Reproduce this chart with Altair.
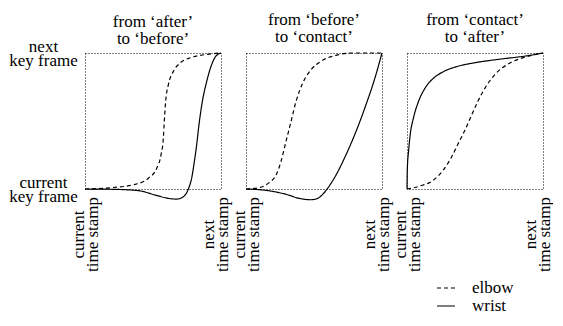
import altair as alt
import pandas as pd

FONT = "Liberation Serif"

panels = ["p1", "p2", "p3"]
titles = {
    "p1": ["from \u2018after\u2019", "to \u2018before\u2019"],
    "p2": ["from \u2018before\u2019", "to \u2018contact\u2019"],
    "p3": ["from \u2018contact\u2019", "to \u2018after\u2019"],
}

p1_elbow_t = [0, 0.196, 0.368, 0.466, 0.527, 0.559, 0.576, 0.583, 0.593, 0.613, 0.650, 0.699, 0.784, 0.882, 1.0]
p1_elbow_v = [0, 0.010, 0.034, 0.079, 0.152, 0.251, 0.373, 0.496, 0.644, 0.767, 0.865, 0.926, 0.968, 0.988, 1.0]
p1_wrist_t = [0, 0.196, 0.392, 0.515, 0.613, 0.674, 0.723, 0.760, 0.784, 0.804, 0.821, 0.838, 0.863, 0.895, 0.931, 0.961, 1.0]
p1_wrist_v = [0, -0.002, -0.012, -0.044, -0.069, -0.074, -0.057, 0.0, 0.079, 0.201, 0.324, 0.472, 0.644, 0.791, 0.914, 0.975, 1.0]
p2_elbow_t = [0, 0.098, 0.172, 0.221, 0.257, 0.294, 0.331, 0.368, 0.417, 0.478, 0.551, 0.662, 0.784, 1.0]
p2_elbow_v = [0, 0.010, 0.049, 0.103, 0.201, 0.349, 0.496, 0.644, 0.779, 0.877, 0.939, 0.983, 1.0, 1.0]
p2_wrist_t = [0, 0.147, 0.294, 0.392, 0.478, 0.527, 0.564, 0.600, 0.662, 0.735, 0.809, 0.882, 0.944, 1.0]
p2_wrist_v = [0, -0.010, -0.039, -0.069, -0.079, -0.069, -0.039, 0.005, 0.103, 0.251, 0.423, 0.619, 0.803, 1.0]
p3_elbow_t = [0, 0.097, 0.194, 0.266, 0.327, 0.375, 0.424, 0.472, 0.521, 0.581, 0.654, 0.751, 0.872, 1.0]
p3_elbow_v = [0, 0.022, 0.065, 0.138, 0.234, 0.331, 0.428, 0.536, 0.645, 0.754, 0.850, 0.923, 0.971, 1.0]
p3_wrist_t = [0, 0.002, 0.012, 0.024, 0.048, 0.085, 0.133, 0.194, 0.266, 0.363, 0.508, 0.678, 0.872, 1.0]
p3_wrist_v = [0, 0.138, 0.283, 0.403, 0.524, 0.645, 0.742, 0.814, 0.862, 0.899, 0.930, 0.954, 0.978, 1.0]

series = {
    "p1": {"elbow": (p1_elbow_t, p1_elbow_v), "wrist": (p1_wrist_t, p1_wrist_v)},
    "p2": {"elbow": (p2_elbow_t, p2_elbow_v), "wrist": (p2_wrist_t, p2_wrist_v)},
    "p3": {"elbow": (p3_elbow_t, p3_elbow_v), "wrist": (p3_wrist_t, p3_wrist_v)},
}

rows = []
for p in panels:
    for joint, (ts, vs) in series[p].items():
        for i, (t, v) in enumerate(zip(ts, vs)):
            rows.append({"panel": p, "joint": joint, "t": t, "v": v, "i": i})
df = pd.DataFrame(rows)

x_axis = alt.Axis(
    values=[0, 1], title=None, grid=False, ticks=False, tickSize=0, domain=False,
    labelExpr="datum.value == 0 ? ['current', 'time stamp'] : ['next', 'time stamp']",
    labelAngle=270, labelAlign="center", labelBaseline="middle", labelPadding=45,
    labelOverlap=False, labelFlush=False, labelFont=FONT, labelFontSize=17,
    labelLineHeight=14, labelColor="black",
    labelOffset={"condition": {"test": "datum.value == 1", "value": -13}, "value": -7},
)


def panel(p, first):
    if first:
        y_axis = alt.Axis(
            values=[0, 1], title=None, grid=False, ticks=False, tickSize=0, domain=False,
            labelExpr="datum.value == 1 ? ['next', 'key frame'] : ['current', 'key frame']",
            labelAlign="center", labelBaseline="middle", labelPadding=42, labelOffset=-7,
            labelFont=FONT, labelFontSize=17, labelLineHeight=14, labelColor="black",
            labelOverlap=False, labelFlush=False,
        )
        title_offset = -11
    else:
        y_axis = None
        title_offset = 5
    return alt.Chart(df[df.panel == p]).mark_line(
        color="black", strokeWidth=1.2, interpolate="monotone"
    ).encode(
        x=alt.X("t:Q", scale=alt.Scale(domain=[0, 1], nice=False, zero=False), axis=x_axis),
        y=alt.Y("v:Q", scale=alt.Scale(domain=[0, 1], nice=False, zero=False), axis=y_axis),
        strokeDash=alt.StrokeDash(
            "joint:N",
            scale=alt.Scale(domain=["elbow", "wrist"], range=[[4, 3], [1, 0]]),
            legend=alt.Legend(
                title=None, orient="none", legendX=351, legendY=225, padding=0,
                symbolType="stroke", symbolSize=324, symbolStrokeColor="black",
                symbolStrokeWidth=1.2, labelFont=FONT, labelFontSize=17,
                labelColor="black", rowPadding=0, labelOffset=16,
            ),
        ),
        detail="joint:N",
        order="i:Q",
    ).properties(
        width=136, height=136,
        title=alt.TitleParams(
            text=titles[p], font=FONT, fontSize=17, fontWeight="normal",
            anchor="middle", lineHeight=17, offset=title_offset, color="black",
        ),
    )


chart = alt.hconcat(
    panel("p1", True), panel("p2", False), panel("p3", False), spacing=25, bounds="flush"
).properties(
    padding={"left": 0, "top": 2, "right": 0, "bottom": 0}
).configure_view(
    stroke="black", strokeDash=[1, 2], strokeWidth=1
)

chart.save("out.html", embed_options={"renderer": "svg", "actions": False})
